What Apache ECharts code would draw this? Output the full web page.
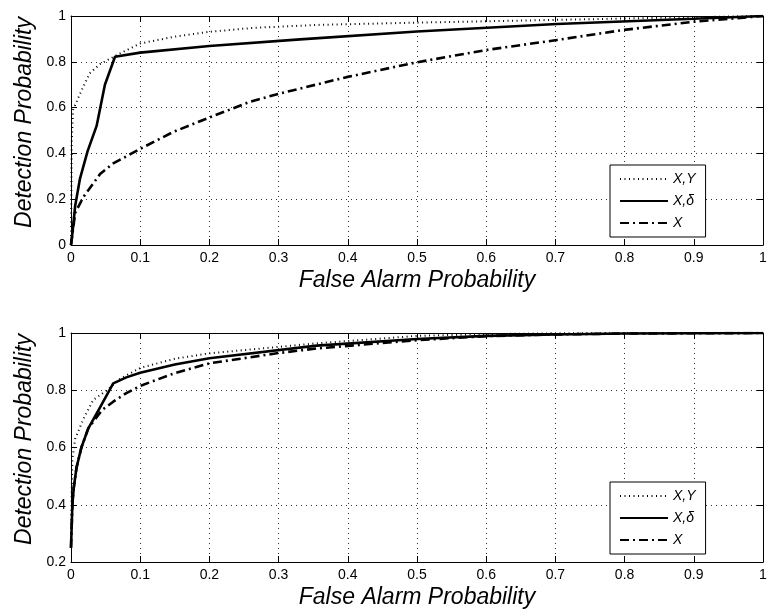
<!DOCTYPE html>
<html>
<head>
<meta charset="utf-8">
<script src="https://cdn.jsdelivr.net/npm/echarts@6/dist/echarts.min.js"></script>
<style>html,body{margin:0;padding:0;background:#fff}#c{width:771px;height:616px}</style>
</head>
<body>
<div id="c"></div>
<script>
// ---- data ----
const xTicks = [0, 0.1, 0.2, 0.3, 0.4, 0.5, 0.6, 0.7, 0.8, 0.9, 1];
const seriesNames = ['X,Y', 'X,\u03b4', 'X'];

// Top panel
const topXY = [[0,0],[0.001,0.45],[0.003,0.59],[0.013,0.66],[0.027,0.75],[0.042,0.79],[0.071,0.837],[0.1,0.88],[0.15,0.91],[0.2,0.931],[0.263,0.948],[0.355,0.961],[0.5,0.971],[0.7,0.983],[0.85,0.992],[1,1]];
const topXD = [[0,0],[0.002,0.05],[0.006,0.17],[0.013,0.29],[0.024,0.41],[0.037,0.52],[0.049,0.70],[0.0636,0.822],[0.1,0.84],[0.2,0.869],[0.331,0.898],[0.5,0.932],[0.702,0.965],[0.9,0.988],[1,1]];
const topX  = [[0,0],[0.006,0.14],[0.018,0.21],[0.042,0.31],[0.061,0.356],[0.1,0.42],[0.148,0.494],[0.196,0.552],[0.259,0.626],[0.3,0.66],[0.398,0.733],[0.5,0.798],[0.601,0.852],[0.702,0.895],[0.798,0.939],[0.9,0.975],[1,1]];

// Bottom panel
const botXY = [[0,0.3],[0.001,0.45],[0.002,0.56],[0.006,0.63],[0.018,0.70],[0.032,0.766],[0.052,0.80],[0.071,0.84],[0.1,0.878],[0.15,0.91],[0.2,0.929],[0.355,0.964],[0.5,0.99],[0.6,0.996],[0.7,0.999],[1,1]];
const botXD = [[0,0.25],[0.002,0.4],[0.004,0.46],[0.008,0.53],[0.015,0.6],[0.025,0.667],[0.042,0.74],[0.061,0.824],[0.08,0.845],[0.1,0.861],[0.15,0.89],[0.2,0.912],[0.355,0.956],[0.5,0.979],[0.6,0.99],[0.7,0.995],[0.8,0.998],[1,1]];
const botX  = [[0,0.25],[0.002,0.4],[0.004,0.46],[0.008,0.53],[0.015,0.6],[0.025,0.667],[0.045,0.731],[0.061,0.76],[0.08,0.79],[0.1,0.815],[0.15,0.86],[0.2,0.894],[0.3,0.93],[0.355,0.946],[0.5,0.975],[0.6,0.989],[0.7,0.995],[0.8,0.998],[1,1]];

// ---- chart ----
const FONT = 'Liberation Sans';
const chart = echarts.init(document.getElementById('c'), null, {renderer: 'canvas'});

const grids = [
  {left: 71, top: 16, width: 692, height: 229},
  {left: 71, top: 333, width: 692, height: 229}
];

function mainX(gi) {
  return {
    type: 'value', gridIndex: gi, min: 0, max: 1, interval: 0.1, position: 'bottom',
    axisLine: {show: true, onZero: false, lineStyle: {color: '#000', width: 1}},
    axisTick: {show: true, inside: true, length: 6, lineStyle: {color: '#000'}},
    axisLabel: {color: '#000', fontFamily: FONT, fontSize: 14, margin: 6},
    splitLine: {show: true, lineStyle: {color: '#333', width: 1, type: [1, 4]}},
    name: 'False Alarm Probability', nameLocation: 'middle', nameGap: 24,
    nameTextStyle: {color: '#000', fontFamily: FONT, fontSize: 23, fontStyle: 'italic'}
  };
}
function sideX(gi) {
  return {
    type: 'value', gridIndex: gi, min: 0, max: 1, interval: 0.1, position: 'top',
    axisLine: {show: true, onZero: false, lineStyle: {color: '#000', width: 1}},
    axisTick: {show: true, inside: true, length: 6, lineStyle: {color: '#000'}},
    axisLabel: {show: false}, splitLine: {show: false}
  };
}
function mainY(gi, mn) {
  return {
    type: 'value', gridIndex: gi, min: mn, max: 1, interval: 0.2, position: 'left',
    axisLine: {show: true, onZero: false, lineStyle: {color: '#000', width: 1}},
    axisTick: {show: true, inside: true, length: 6, lineStyle: {color: '#000'}},
    axisLabel: {color: '#000', fontFamily: FONT, fontSize: 14, margin: 5},
    splitLine: {show: true, lineStyle: {color: '#333', width: 1, type: [1, 4]}},
    name: 'Detection Probability', nameLocation: 'middle', nameGap: 32,
    nameTextStyle: {color: '#000', fontFamily: FONT, fontSize: 23, fontStyle: 'italic', padding: [0, 0, 0, 16]}
  };
}
function sideY(gi, mn) {
  return {
    type: 'value', gridIndex: gi, min: mn, max: 1, interval: 0.2, position: 'right',
    axisLine: {show: true, onZero: false, lineStyle: {color: '#000', width: 1}},
    axisTick: {show: true, inside: true, length: 6, lineStyle: {color: '#000'}},
    axisLabel: {show: false}, splitLine: {show: false}
  };
}

const styles = [
  {color: '#000', width: 2, type: [1, 3.5]},
  {color: '#000', width: 2.6, type: 'solid'},
  {color: '#000', width: 2.6, type: [9, 4, 2, 4]}
];
const panels = [[topXY, topXD, topX], [botXY, botXD, botX]];
const series = [];
panels.forEach((sets, gi) => {
  sets.forEach((d, si) => {
    series.push({
      type: 'line', name: seriesNames[si], data: d,
      xAxisIndex: gi * 2, yAxisIndex: gi * 2,
      symbol: 'none', smooth: false, silent: true, animation: false,
      color: '#000', itemStyle: {color: '#000'},
      lineStyle: styles[si]
    });
  });
});

function legend(top) {
  return {
    data: seriesNames, orient: 'vertical', left: 610, top: top,
    icon: 'inherit',
    backgroundColor: '#fff', borderColor: '#000', borderWidth: 1,
    padding: [7, 10, 7, 9], itemGap: 8, itemWidth: 48, itemHeight: 14,
    selectedMode: false,
    itemStyle: {opacity: 0},
    textStyle: {color: '#000', fontFamily: FONT, fontSize: 14, fontStyle: 'italic'}
  };
}

chart.setOption({
  animation: false,
  backgroundColor: '#fff',
  grid: grids,
  xAxis: [mainX(0), sideX(0), mainX(1), sideX(1)],
  yAxis: [mainY(0, 0), sideY(0, 0), mainY(1, 0.2), sideY(1, 0.2)],
  legend: [legend(165), legend(482)],
  series: series
});
</script>
</body>
</html>
